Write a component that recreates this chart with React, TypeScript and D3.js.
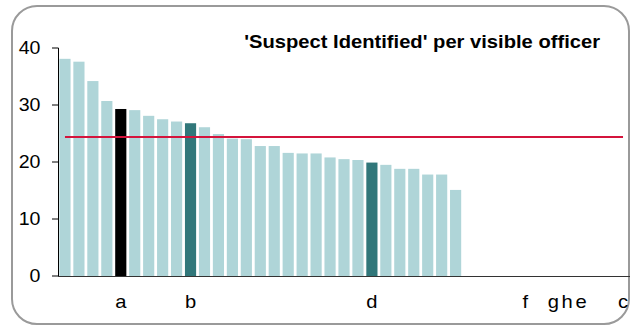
import React from "react";
import * as d3 from "d3";

const W = 630;
const H = 326;

const title = "'Suspect Identified' per visible officer";

// category labels (41 slots, most unlabeled)
const categoryLabels: string[] = [
  "", "", "", "", "a", "", "", "", "", "b",
  "", "", "", "", "", "", "", "", "", "",
  "", "", "d", "", "", "", "", "", "", "",
  "", "", "", "f", "", "g", "h", "e", "", "",
  "c",
];

const values: number[] = [
  38.1, 37.6, 34.2, 30.7, 29.3, 29.1, 28.1, 27.5, 27.1, 26.8,
  26.1, 24.9, 24.1, 24.0, 22.8, 22.8, 21.6, 21.5, 21.5, 20.8,
  20.5, 20.35, 19.9, 19.5, 18.8, 18.8, 17.8, 17.8, 15.1,
];

const highlightBlack: number[] = [4];
const highlightDark: number[] = [9, 22];

const averageValue = 24.4;
const yTicks: number[] = [0, 10, 20, 30, 40];

const SX = 1.12;

function SText(props: {
  x: number;
  y: number;
  anchor: "start" | "middle" | "end";
  size: number;
  bold?: boolean;
  children: React.ReactNode;
}) {
  return (
    <text
      transform={`translate(${props.x},${props.y}) scale(${SX},1)`}
      textAnchor={props.anchor}
      fontSize={props.size}
      fontWeight={props.bold ? "bold" : "normal"}
      fill="#000"
    >
      {props.children}
    </text>
  );
}

export default function App() {
  const x = d3
    .scaleBand<number>()
    .domain(categoryLabels.map((_, i) => i))
    .range([58, 630])
    .paddingInner(0.2)
    .paddingOuter(0.1);
  const y = d3.scaleLinear().domain([0, 40]).range([276, 48]);

  const colorFor = (i: number) =>
    highlightBlack.includes(i) ? "#000000" : highlightDark.includes(i) ? "#31777a" : "#afd5d8";

  const font = "Liberation Sans, Arial, sans-serif";
  const half = x.bandwidth() / 2;

  return (
    <svg
      width={W}
      height={H}
      style={{ position: "absolute", left: 0, top: 0 }}
      fontFamily={font}
    >
      <rect x={12} y={6} width={617} height={318} rx={25} ry={25} fill="#ffffff" stroke="#9a9a9a" strokeWidth={2} />
      {values.map((v, i) => (
        <rect
          key={i}
          x={x(i)!}
          y={y(v)}
          width={x.bandwidth()}
          height={y(0) - y(v)}
          fill={colorFor(i)}
        />
      ))}
      {/* y axis */}
      <line x1={58.5} x2={58.5} y1={y(40)} y2={y(0)} stroke="#000" strokeWidth={1} />
      {yTicks.map((t) => (
        <g key={t}>
          <line x1={52} x2={58.5} y1={y(t)} y2={y(t)} stroke="#000" strokeWidth={1} />
          <SText x={40.5} y={y(t) + 6.3} anchor="end" size={17.5}>
            {t}
          </SText>
        </g>
      ))}
      {/* x axis */}
      <line x1={58} x2={630} y1={y(0) + 0.5} y2={y(0) + 0.5} stroke="#333" strokeWidth={1.2} />
      {categoryLabels.map((l, i) =>
        l ? (
          <SText key={i} x={x(i)! + half} y={308} anchor="middle" size={18}>
            {l}
          </SText>
        ) : null
      )}
      {/* average line */}
      <line
        x1={x(0)! + half}
        x2={x(categoryLabels.length - 1)! + half}
        y1={y(averageValue)}
        y2={y(averageValue)}
        stroke="#d4143c"
        strokeWidth={2}
      />
      <SText x={600} y={48} anchor="end" size={18} bold>
        {title}
      </SText>
    </svg>
  );
}
